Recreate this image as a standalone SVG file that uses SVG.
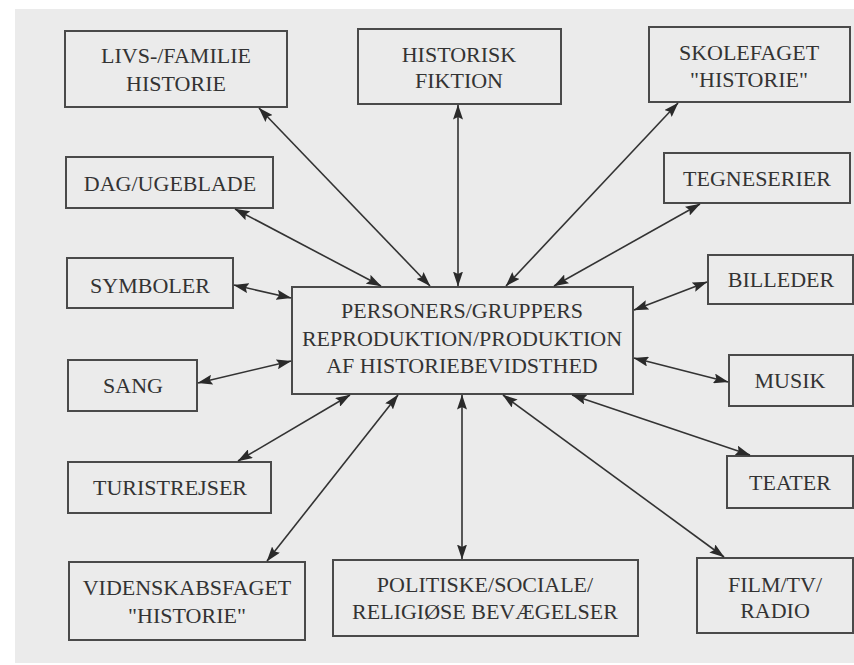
<svg xmlns="http://www.w3.org/2000/svg" width="854" height="665" viewBox="0 0 854 665">
<defs>
<marker id="ah" viewBox="0 0 15 10" refX="14.5" refY="5" markerWidth="15" markerHeight="10" markerUnits="userSpaceOnUse" orient="auto-start-reverse">
<path d="M0,0 L15,5 L0,10 L2.5,5 z" fill="#2a2a2a"/>
</marker>
</defs>
<style>
.box{fill:none;stroke:#4a4a4a;stroke-width:2}
.t{font-size:22px;fill:#333;text-anchor:middle}
.c line{stroke:#333;stroke-width:1.6;marker-start:url(#ah);marker-end:url(#ah)}
</style>
<rect width="854" height="665" fill="#ffffff"/>
<rect x="15" y="9" width="839" height="654" fill="#ebebeb"/>
<g font-family="'Liberation Serif', 'DejaVu Serif', 'Times New Roman', serif">
<g id="center">
<rect class="box" x="292" y="287" width="341" height="107"/>
<text class="t" x="462" y="318">PERSONERS/GRUPPERS</text>
<text class="t" x="462" y="346">REPRODUKTION/PRODUKTION</text>
<text class="t" x="462" y="373">AF HISTORIEBEVIDSTHED</text>
</g>
<g id="livs">
<rect class="box" x="65" y="31" width="222" height="76"/>
<text class="t" x="176" y="63">LIVS-/FAMILIE</text>
<text class="t" x="176" y="91">HISTORIE</text>
</g>
<g id="historisk">
<rect class="box" x="358" y="29" width="203" height="75"/>
<text class="t" x="459" y="62">HISTORISK</text>
<text class="t" x="459" y="88">FIKTION</text>
</g>
<g id="skolefaget">
<rect class="box" x="649" y="27" width="201" height="75"/>
<text class="t" x="749" y="60">SKOLEFAGET</text>
<text class="t" x="749" y="87">"HISTORIE"</text>
</g>
<g id="dag">
<rect class="box" x="66" y="157" width="207" height="51"/>
<text class="t" x="170" y="191">DAG/UGEBLADE</text>
</g>
<g id="tegneserier">
<rect class="box" x="664" y="153" width="186" height="50"/>
<text class="t" x="757" y="186">TEGNESERIER</text>
</g>
<g id="symboler">
<rect class="box" x="67" y="258" width="166" height="50"/>
<text class="t" x="150" y="293">SYMBOLER</text>
</g>
<g id="billeder">
<rect class="box" x="708" y="255" width="145" height="49"/>
<text class="t" x="781" y="287">BILLEDER</text>
</g>
<g id="sang">
<rect class="box" x="68" y="360" width="129" height="51"/>
<text class="t" x="133" y="393">SANG</text>
</g>
<g id="musik">
<rect class="box" x="729" y="355" width="124" height="51"/>
<text class="t" x="790" y="388">MUSIK</text>
</g>
<g id="turistrejser">
<rect class="box" x="68" y="462" width="203" height="51"/>
<text class="t" x="170" y="495">TURISTREJSER</text>
</g>
<g id="teater">
<rect class="box" x="727" y="456" width="126" height="52"/>
<text class="t" x="790" y="490">TEATER</text>
</g>
<g id="videnskabsfaget">
<rect class="box" x="69" y="562" width="236" height="78"/>
<text class="t" x="187" y="595">VIDENSKABSFAGET</text>
<text class="t" x="187" y="623">"HISTORIE"</text>
</g>
<g id="politiske">
<rect class="box" x="333" y="560" width="305" height="76"/>
<text class="t" x="485" y="592">POLITISKE/SOCIALE/</text>
<text class="t" x="485" y="619">RELIGIØSE BEVÆGELSER</text>
</g>
<g id="film">
<rect class="box" x="697" y="558" width="156" height="75"/>
<text class="t" x="775" y="592">FILM/TV/</text>
<text class="t" x="775" y="618">RADIO</text>
</g>
</g>
<g id="connectors" class="c">
<line x1="259" y1="108" x2="430" y2="286"/>
<line x1="458" y1="105" x2="458" y2="286"/>
<line x1="678" y1="103" x2="506" y2="286"/>
<line x1="235" y1="209" x2="381" y2="286"/>
<line x1="700" y1="204" x2="554" y2="286"/>
<line x1="234" y1="285" x2="291" y2="298"/>
<line x1="707" y1="282" x2="634" y2="310"/>
<line x1="198" y1="383" x2="291" y2="361"/>
<line x1="634" y1="358" x2="728" y2="382"/>
<line x1="238" y1="461" x2="350" y2="395"/>
<line x1="572" y1="395" x2="750" y2="455"/>
<line x1="267" y1="561" x2="398" y2="395"/>
<line x1="462" y1="395" x2="462" y2="559"/>
<line x1="503" y1="395" x2="724" y2="557"/>
</g>
</svg>
